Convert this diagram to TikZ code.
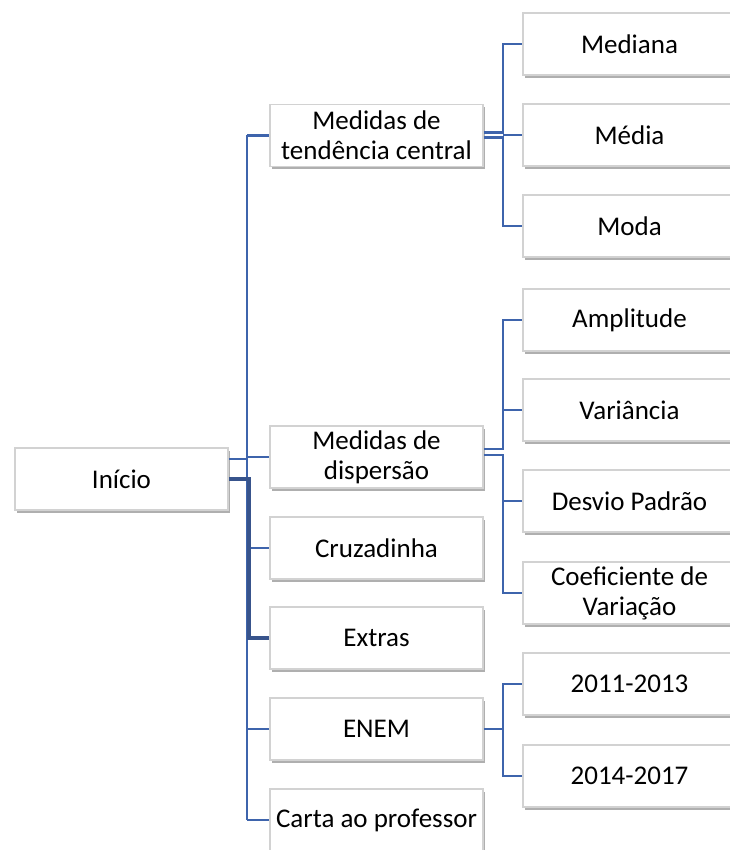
\documentclass[tikz,border=0pt]{standalone}
\usepackage{fontspec}
\setmainfont{Carlito}
\usetikzlibrary{shadows}
\definecolor{azul}{RGB}{62,100,172}
\definecolor{azulescuro}{RGB}{56,84,140}

\begin{document}
\begin{tikzpicture}[x=1pt,y=-1pt,
		caixa/.style={draw=gray!35,line width=1.5pt,fill=white,minimum width=213pt,minimum height=62pt,align=center,inner sep=2pt,
			font=\fontsize{27}{30}\selectfont,
			drop shadow={shadow xshift=2pt,shadow yshift=-3pt,fill=gray!70,opacity=0.9}},
		ramo/.style={draw=azul,line width=2.4pt},
		ramogrosso/.style={draw=azulescuro,line width=4.5pt}
		]
		\useasboundingbox (0,0) rectangle (729,850);
		% nivel 1
		\node[caixa] (inicio) at (121.5,479) {Início};
		% nivel 2
		\node[caixa] (tendencia) at (376.5,135.5) {Medidas de\\tendência central};
		\node[caixa] (dispersao) at (376.5,457) {Medidas de\\dispersão};
		\node[caixa] (cruzadinha) at (376.5,548) {Cruzadinha};
		\node[caixa] (extras) at (376.5,638) {Extras};
		\node[caixa] (enem) at (376.5,729) {ENEM};
		\node[caixa] (carta) at (376.5,820) {Carta ao professor};
		% nivel 3
		\node[caixa] (mediana) at (629.5,44) {Mediana};
		\node[caixa] (media) at (629.5,135) {Média};
		\node[caixa] (moda) at (629.5,226) {Moda};
		\node[caixa] (amplitude) at (629.5,320) {Amplitude};
		\node[caixa] (variancia) at (629.5,410) {Variância};
		\node[caixa] (desvio) at (629.5,501) {Desvio Padrão};
		\node[caixa] (coef) at (629.5,593) {Coeficiente de\\Variação};
		\node[caixa] (enemA) at (629.5,684) {2011-2013};
		\node[caixa] (enemB) at (629.5,776) {2014-2017};

		\coordinate (tronco) at (247,479);
		\coordinate (tronco2) at (249,479);
		\coordinate (sub) at (503,0);

		% ligacoes do inicio
		\draw[ramo] ([yshift=20pt]inicio.east) -- ([yshift=20pt]tronco);
		\draw[ramo] (tronco |- tendencia.west) -- (tronco |- carta.west);
		\foreach \n in {tendencia,dispersao,cruzadinha,enem,carta}
			\draw[ramo] (tronco |- \n.west) -- (\n.west);
		\draw[ramogrosso] (inicio.east) -- (tronco2) -- (tronco2 |- extras.west) -- (extras.west);

		% medidas de tendencia central
		\draw[ramo] ([yshift=3pt]tendencia.east) -| (sub |- mediana.west) -- (mediana.west);
		\draw[ramo] ([yshift=-2pt]tendencia.east) -| (sub |- moda.west) -- (moda.west);
		\draw[ramo] (sub |- media.west) -- (media.west);

		% medidas de dispersao
		\draw[ramo] ([yshift=8pt]dispersao.east) -| (sub |- amplitude.west) -- (amplitude.west);
		\draw[ramo] ([yshift=2pt]dispersao.east) -| (sub |- coef.west) -- (coef.west);
		\foreach \n in {variancia,desvio}
			\draw[ramo] (sub |- \n.west) -- (\n.west);

		% enem
		\draw[ramo] (enem.east) -| (sub |- enemA.west) -- (enemA.west);
		\draw[ramo] (enem.east) -| (sub |- enemB.west) -- (enemB.west);
	\end{tikzpicture}
\end{document}
